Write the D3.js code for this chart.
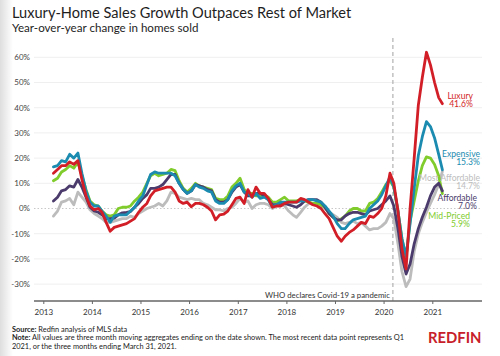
<!DOCTYPE html>
<html><head><meta charset="utf-8">
<script src="https://cdn.jsdelivr.net/npm/d3@7"></script>
<style>html,body{margin:0;padding:0;background:#fff}svg{display:block;font-family:Lato,"Open Sans",sans-serif}</style>
</head><body><svg id="chart" width="500" height="356"></svg>
<script>
// ---- data (three-month moving YoY change in homes sold, %) Mar 2013 .. Mar 2021 ----
const firstMonth = [2013, 2];   // March 2013 (month index 2)
const monthCount = 97;
const luxury = [14,15.5,17,17,18.5,17.5,19,11.5,5,1,-0.5,0,
 -1.5,-5.5,-9,-7.5,-7,-6.5,-6,-5,-4,-1.5,0.5,2,
 5,7,7.5,8,8.5,8.5,6.5,3,2,2.5,0.7,2,
 2,1.5,0.5,-1,-4.5,-2.5,-2.2,-1,1.5,4,4.5,2,
 7.5,4.5,8.5,6,6,4,0.5,1,1,2,2.5,2.5,
 2.5,4,3.5,2.5,1.5,1,0,-2,-4,-7.5,-11,-13,
 -11,-9.5,-8.5,-7,-5.5,-6,-3,-3.5,-2,0,5,14,
 10,-1,-16,-24,0,20,41,52,62,57,50,44,41.6];
const expensive = [16.5,17,19,18.5,21.5,20,22,14,7,2.5,1,1,
 -1,-3,-5.5,-3,-2.5,-2.5,-2.5,-1,0.5,3,5,9.5,
 13.5,14.5,14,14,14,14,13,10,7.5,6,7,9.5,
 8.5,8,7,6.5,3,2,2,3.5,7,9,10,6.5,
 6,4.5,6,4,4.5,3.5,0.7,1.5,2.5,2.5,2.5,2.5,
 2.5,3,3,3.5,3.5,3,2.5,1,-1,-3,-6,-8,
 -8,-6,-4.5,-4,-3.5,-3,0,1.5,3,5.5,9,12.5,
 8.5,-1,-12,-19,-6,8,21,28.5,34.5,32.5,28,21.5,15.3];
const midPriced = [11,12,14.5,15.5,17,16,18.5,13,7.5,3,1.5,1,
 -1,-2.5,-3,-2.5,0,0.5,0.5,1,3,4.5,6.5,10,
 13,14,13,13.5,14,15.5,15,11,8,6.5,8,10,
 9,8.5,8,7.5,4,3.5,3.5,5,8.5,10,12,7.5,
 6,6,5,5,5.5,4.5,2.5,2.5,3.5,4.5,3,3,
 3,3.5,3,2.5,2,2,1.5,0.5,-2,-3.5,-5,-4,
 -3,-1,0,0,-1,-1,2,2.5,4,6.5,9.5,11,
 8.5,-1,-12,-19.5,-5,3,11,17,20.5,20,17.5,13,5.9];
const affordable = [3,4.5,7,7.5,9,8.5,11.5,8.5,4.5,0.5,-1,-1.5,
 -2.5,-4,-4,-3.8,-2.5,-1.7,-1.5,-1.2,0.5,2,4,5.5,
 8,8,8.5,9.5,11.5,13.5,13.5,10,7.5,6,7,9.5,
 9,8.5,7.5,7,3.5,2.5,2.5,3.5,6.5,8.5,9.5,6.5,
 5,5,6,6,5,3.5,1.5,1.5,2,2,1.5,1,
 0.5,1.5,3,3.5,3.5,3.5,2.5,0.5,-2,-3.5,-4.5,-4.5,
 -3,-2,-1.5,-1.5,-2,-2.5,-1,-0.5,0,1.5,3,5,
 1,-8,-19,-26,-22,-14,-8,-3.5,0.5,5,8.5,10,7];
const mostAffordable = [-3,-1,2.5,3,4,1.5,6.5,4.5,2.5,-0.5,-2,-3,
 -4,-5.5,-5.5,-5,-4.5,-4,-4,-3,-3.5,-2,-1,0,
 0.5,1,2,1,3,6.5,6,4.5,4,3.5,4,3.5,
 3.5,2,1.5,0.5,-0.5,-0.5,-1,0,0.5,2,4,2.5,
 3,0,1.5,2,2,1.5,0,1,1.5,1,-1,-2.5,
 -3.5,-1.5,0.5,2,2,1.5,1,0,-1.5,-2.5,-3.5,-5.5,
 -6,-5.5,-5,-6,-5.5,-7,-8.5,-8,-8,-7,-5.5,-2,
 -4,-14,-25,-31,-28,-17,-10,-5.5,-1.5,2,5.5,9.5,14.7];

const seriesNames  = ["Most Affordable","Mid-Priced","Affordable","Expensive","Luxury"];
const seriesValues = [mostAffordable, midPriced, affordable, expensive, luxury];
const seriesColors = ["#bcbcbc","#80cc2c","#4b3b6c","#1b8bb0","#d21f27"];
const finalLabels  = ["14.7%","5.9%","7.0%","15.3%","41.6%"];
const yTickValues  = [-30,-20,-10,0,10,20,30,40,50,60];
const xTickYears   = [2013,2014,2015,2016,2017,2018,2019,2020,2021];
const eventDate    = [2020, 2, 11];
const eventLabel   = "WHO declares Covid-19 a pandemic";

// ---- layout ----
const svg = d3.select("#chart");
const months = d3.timeMonth.range(new Date(firstMonth[0], firstMonth[1], 1),
                                  new Date(firstMonth[0], firstMonth[1] + monthCount, 1))
                 .map(m => d3.timeDay.offset(m, 17));

const x = d3.scaleTime().domain([new Date(2013,0,1), new Date(2021,0,1)]).range([43.3, 432.3]);
const y = d3.scaleLinear().domain([-30, 60]).range([284.1, 57.3]);
const plotLeft = 34, plotRight = 482, axisY = 301;

// left-edge shading
const defs = svg.append("defs");
const grad = defs.append("linearGradient").attr("id","shade");
grad.append("stop").attr("offset","0%").attr("stop-color","#000").attr("stop-opacity",0.13);
grad.append("stop").attr("offset","100%").attr("stop-color","#000").attr("stop-opacity",0);
svg.append("rect").attr("x",0).attr("y",0).attr("width",13).attr("height",356).attr("fill","url(#shade)");

// titles
svg.append("text").attr("x",12).attr("y",17.5).attr("font-size",14.6).attr("fill","#1e1e1e")
   .text("Luxury-Home Sales Growth Outpaces Rest of Market");
svg.append("text").attr("x",12).attr("y",31.5).attr("font-size",11.6).attr("fill","#1e1e1e")
   .text("Year-over-year change in homes sold");

// gridlines
svg.append("g").selectAll("line").data(yTickValues).join("line")
  .attr("x1",plotLeft).attr("x2",plotRight)
  .attr("y1",d=>y(d)).attr("y2",d=>y(d))
  .attr("stroke",d=>d===0?"#c8c8c8":"#efefef")
  .attr("stroke-width",1)
  .attr("stroke-dasharray",d=>d===0?"1.5,2":null);

// y tick labels
svg.append("g").selectAll("text").data(yTickValues).join("text")
  .attr("x",30).attr("y",d=>y(d)+2.8).attr("text-anchor","end")
  .attr("font-size",8).attr("fill","#444").text(d=>d+"%");

// event line
const ex = x(new Date(eventDate[0],eventDate[1],eventDate[2]));
svg.append("line").attr("x1",ex).attr("x2",ex).attr("y1",38).attr("y2",axisY)
   .attr("stroke","#aaa").attr("stroke-width",1.1).attr("stroke-dasharray","4,3");
svg.append("text").attr("x",ex-3).attr("y",298).attr("text-anchor","end")
   .attr("font-size",7.8).attr("fill","#333").text(eventLabel);

// x axis
const xAxis = d3.axisBottom(x)
  .tickValues(xTickYears.map(yr=>new Date(yr,0,1)))
  .tickFormat(d3.timeFormat("%Y")).tickSize(3).tickSizeOuter(0);
const gx = svg.append("g").attr("transform",`translate(0,${axisY})`).call(xAxis);
gx.select(".domain").remove();
gx.append("line").attr("x1",plotLeft).attr("x2",plotRight).attr("stroke","#666").attr("stroke-width",1.3);
gx.selectAll(".tick line").attr("stroke","#666");
gx.selectAll(".tick text").attr("font-size",8).attr("fill","#333").attr("font-family","Lato,'Open Sans',sans-serif").attr("dy","0.95em");

// lines
const line = d3.line().x((d,i)=>x(months[i])).y(d=>y(d)).curve(d3.curveLinear);
svg.append("g").selectAll("path").data(seriesValues).join("path")
  .attr("d",line).attr("fill","none")
  .attr("stroke",(d,i)=>seriesColors[i])
  .attr("stroke-width",2.8).attr("stroke-linejoin","round").attr("stroke-linecap","round");

// end labels
const labelPos = [ {x:480,y:180.5,c:"#bdbdbd"}, {x:470,y:218.5,c:"#80cc2c"},
                   {x:477,y:200.5,c:"#4b3b6c"}, {x:480,y:156.5,c:"#1b8bb0"}, {x:473,y:98.5,c:"#d21f27"} ];
const lg = svg.append("g");
seriesNames.forEach((n,i)=>{
  const p = labelPos[i];
  const t = lg.append("text").attr("x",p.x).attr("y",p.y).attr("text-anchor","end")
     .attr("font-size",8.6).attr("fill",p.c);
  t.append("tspan").attr("x",p.x).text(n);
  t.append("tspan").attr("x",p.x).attr("dy",8.7).text(finalLabels[i]);
});

// footnotes
const fn = svg.append("g").attr("font-size",7.4).attr("fill","#222");
const l1 = fn.append("text").attr("x",12).attr("y",332);
l1.append("tspan").attr("font-weight","bold").text("Source:");
l1.append("tspan").text(" Redfin analysis of MLS data");
const l2 = fn.append("text").attr("x",12).attr("y",340.3);
l2.append("tspan").attr("font-weight","bold").text("Note:");
l2.append("tspan").text(" All values are three month moving aggregates ending on the date shown. The most recent data point represents Q1");
fn.append("text").attr("x",12).attr("y",348.6).text("2021, or the three months ending March 31, 2021.");

// logo
svg.append("text").attr("x",428).attr("y",343).attr("font-size",15.5).attr("font-weight","bold")
   .attr("fill","#c8202a").attr("textLength",53.5).attr("lengthAdjust","spacingAndGlyphs").text("REDFIN");
</script></body></html>
